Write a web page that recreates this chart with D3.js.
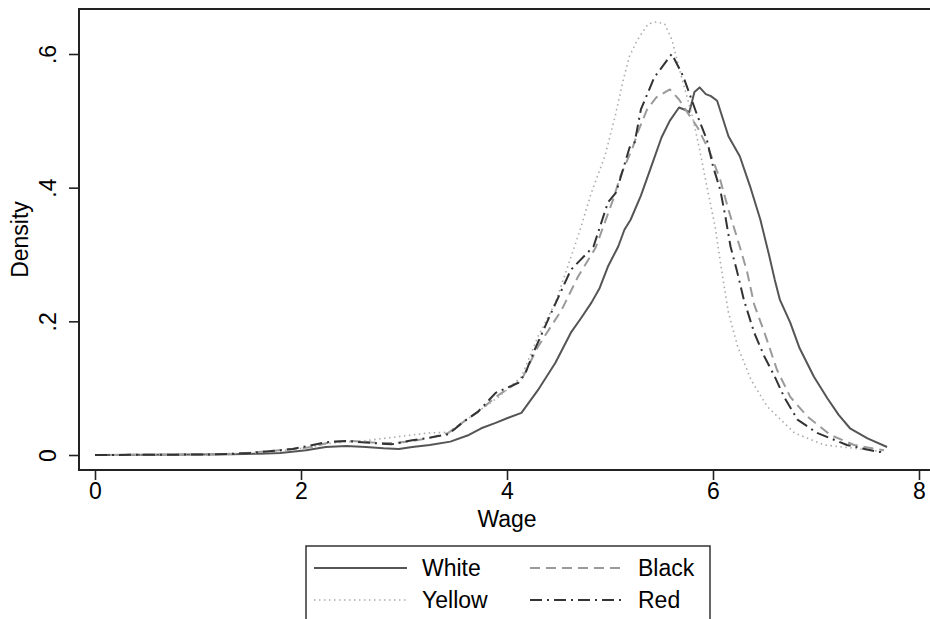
<!DOCTYPE html>
<html>
<head>
<meta charset="utf-8">
<script src="https://cdn.jsdelivr.net/npm/d3@7"></script>
<style>
  body { margin: 0; background: #fff; }
  svg { display: block; font-family: "Liberation Sans", Arial, sans-serif; }
</style>
</head>
<body>
<div id="chart"></div>
<script>
// kernel density of wage as [wage, density]
const whiteCurve = [[0,0],[0.5,0.0003],[1.0,0.0008],[1.33,0.001],[1.6,0.002],[1.8,0.003],[2.05,0.007],[2.24,0.012],[2.44,0.0135],
  [2.63,0.012],[2.8,0.01],[2.95,0.009],[3.08,0.012],[3.25,0.015],[3.45,0.02],[3.63,0.03],[3.75,0.04],[3.89,0.048],[4.0,0.055],
  [4.14,0.063],[4.3,0.097],[4.47,0.138],[4.62,0.183],[4.72,0.205],[4.82,0.228],[4.9,0.25],[4.98,0.282],[5.08,0.312],[5.14,0.337],
  [5.2,0.352],[5.3,0.388],[5.42,0.44],[5.5,0.475],[5.58,0.5],[5.67,0.52],[5.72,0.517],[5.77,0.513],[5.82,0.543],[5.87,0.55],
  [5.93,0.54],[5.98,0.537],[6.04,0.53],[6.15,0.477],[6.26,0.447],[6.36,0.402],[6.46,0.352],[6.54,0.302],[6.6,0.262],[6.65,0.232],
  [6.75,0.198],[6.84,0.16],[6.98,0.117],[7.11,0.085],[7.22,0.06],[7.33,0.04],[7.5,0.025],[7.69,0.012]];

const blackCurve = [[0,0],[0.8,0.0005],[1.2,0.001],[1.47,0.003],[1.79,0.007],[2.11,0.012],[2.3,0.02],[2.5,0.021],[2.76,0.018],
  [2.92,0.018],[3.08,0.021],[3.24,0.025],[3.43,0.033],[3.58,0.05],[3.72,0.065],[3.92,0.09],[4.14,0.112],[4.3,0.162],[4.53,0.217],
  [4.69,0.267],[4.86,0.31],[5.03,0.382],[5.1,0.417],[5.22,0.46],[5.27,0.483],[5.36,0.517],[5.45,0.535],[5.58,0.547],[5.67,0.532],
  [5.75,0.513],[5.85,0.49],[5.97,0.453],[6.07,0.412],[6.15,0.367],[6.23,0.327],[6.33,0.275],[6.4,0.225],[6.5,0.183],[6.62,0.128],
  [6.75,0.087],[6.92,0.057],[7.14,0.03],[7.37,0.015],[7.66,0.007]];

const yellowCurve = [[0,0],[0.8,0.0005],[1.2,0.001],[1.5,0.003],[1.8,0.006],[2.05,0.011],[2.3,0.018],[2.6,0.021],[2.92,0.027],
  [3.24,0.033],[3.43,0.034],[3.6,0.052],[3.92,0.087],[4.14,0.117],[4.3,0.177],[4.47,0.228],[4.59,0.282],[4.71,0.337],[4.82,0.393],
  [4.95,0.447],[5.05,0.507],[5.13,0.562],[5.19,0.597],[5.27,0.622],[5.37,0.645],[5.45,0.648],[5.53,0.645],[5.6,0.622],[5.7,0.562],
  [5.8,0.507],[5.87,0.457],[5.94,0.402],[6.02,0.342],[6.09,0.27],[6.15,0.213],[6.24,0.162],[6.37,0.112],[6.53,0.072],[6.79,0.033],
  [7.08,0.015],[7.66,0.005]];

const redCurve = [[0,0],[0.8,0.0005],[1.2,0.001],[1.5,0.003],[1.92,0.009],[2.24,0.019],[2.43,0.021],[2.69,0.018],[2.88,0.016],
  [3.08,0.022],[3.25,0.026],[3.43,0.031],[3.58,0.05],[3.72,0.065],[3.89,0.093],[4.11,0.108],[4.18,0.123],[4.27,0.158],[4.43,0.213],
  [4.62,0.277],[4.84,0.312],[4.98,0.378],[5.06,0.393],[5.19,0.46],[5.24,0.468],[5.3,0.517],[5.43,0.565],[5.6,0.6],[5.71,0.567],
  [5.78,0.537],[5.85,0.507],[5.94,0.472],[6.0,0.432],[6.07,0.397],[6.12,0.357],[6.17,0.312],[6.23,0.277],[6.3,0.232],[6.4,0.183],
  [6.5,0.147],[6.6,0.117],[6.69,0.087],[6.82,0.053],[7.01,0.033],[7.3,0.015],[7.59,0.005],[7.65,0.004]];

const xTicks = [0, 2, 4, 6, 8];
const yTicks = [0, 0.2, 0.4, 0.6];
const yTickLabels = ["0", ".2", ".4", ".6"];

const series = [
  {name: "White",  data: whiteCurve,  color: "#555", width: 2,   dash: null},
  {name: "Black",  data: blackCurve,  color: "#9a9a9a", width: 2, dash: "10,6"},
  {name: "Yellow", data: yellowCurve, color: "#aaa", width: 1.6, dash: "1.5,3.5"},
  {name: "Red",    data: redCurve,    color: "#333", width: 2,   dash: "12,5,2,5"}
];

const W = 930, H = 619;
const plotLeft = 79, plotTop = 9, plotBottom = 470;
const fontSize = "23px";

const svg = d3.select("#chart").append("svg")
  .attr("width", W).attr("height", H);

const x = d3.scaleLinear().domain([0, 8]).range([95, 919]);
const y = d3.scaleLinear().domain([0, 0.6]).range([455, 54]);

// curves
const line = d3.line().x(d => x(d[0])).y(d => y(d[1]));
series.forEach(s => {
  svg.append("path")
    .attr("d", line(s.data))
    .attr("fill", "none")
    .attr("stroke", s.color)
    .attr("stroke-width", s.width)
    .attr("stroke-dasharray", s.dash)
    .attr("stroke-linejoin", "round");
});

// frame
svg.append("path")
  .attr("d", `M${W + 2},${plotTop}H${plotLeft}V${plotBottom}H${W + 2}`)
  .attr("fill", "none").attr("stroke", "#222").attr("stroke-width", 2);

// x axis
const xAxis = svg.append("g")
  .attr("transform", `translate(0,${plotBottom})`)
  .call(d3.axisBottom(x).tickValues(xTicks).tickSize(10).tickSizeOuter(0).tickFormat(d3.format("d")));
xAxis.select(".domain").remove();
xAxis.selectAll("line").attr("stroke", "#222").attr("stroke-width", 1.6);
xAxis.selectAll("text").attr("fill", "#000").style("font-size", fontSize).attr("y", 13);

// y axis with rotated labels
const yAxis = svg.append("g")
  .attr("transform", `translate(${plotLeft},0)`)
  .call(d3.axisLeft(y).tickValues(yTicks).tickSize(10).tickSizeOuter(0).tickFormat((d, i) => yTickLabels[i]));
yAxis.select(".domain").remove();
yAxis.selectAll("line").attr("stroke", "#222").attr("stroke-width", 1.6);
yAxis.selectAll("text")
  .attr("fill", "#000").style("font-size", fontSize)
  .attr("x", 0).attr("y", -31).attr("dy", null)
  .attr("text-anchor", "middle")
  .attr("dominant-baseline", "central")
  .attr("transform", "rotate(-90)");

// axis titles
svg.append("text")
  .attr("x", 507).attr("y", 519)
  .attr("text-anchor", "middle").attr("dominant-baseline", "central")
  .style("font-size", fontSize).text("Wage");
svg.append("text")
  .attr("transform", `translate(20,${(plotTop + plotBottom) / 2}) rotate(-90)`)
  .attr("text-anchor", "middle").attr("dominant-baseline", "central")
  .style("font-size", fontSize).text("Density");

// legend
const legend = svg.append("g");
legend.append("rect")
  .attr("x", 306).attr("y", 546).attr("width", 404).attr("height", 100)
  .attr("fill", "#fff").attr("stroke", "#333").attr("stroke-width", 1.5);

const legendPos = [
  {col: 0, row: 0}, {col: 1, row: 0}, {col: 0, row: 1}, {col: 1, row: 1}
];
const colX = [314, 530], rowY = [568, 600];
series.forEach((s, i) => {
  const p = legendPos[i];
  const lx = colX[p.col], ly = rowY[p.row];
  legend.append("line")
    .attr("x1", lx).attr("x2", lx + 93)
    .attr("y1", ly).attr("y2", ly)
    .attr("stroke", s.color)
    .attr("stroke-width", s.width)
    .attr("stroke-dasharray", s.dash);
  legend.append("text")
    .attr("x", lx + 108).attr("y", ly)
    .attr("dominant-baseline", "central")
    .style("font-size", fontSize)
    .text(s.name);
});
</script>
</body>
</html>
